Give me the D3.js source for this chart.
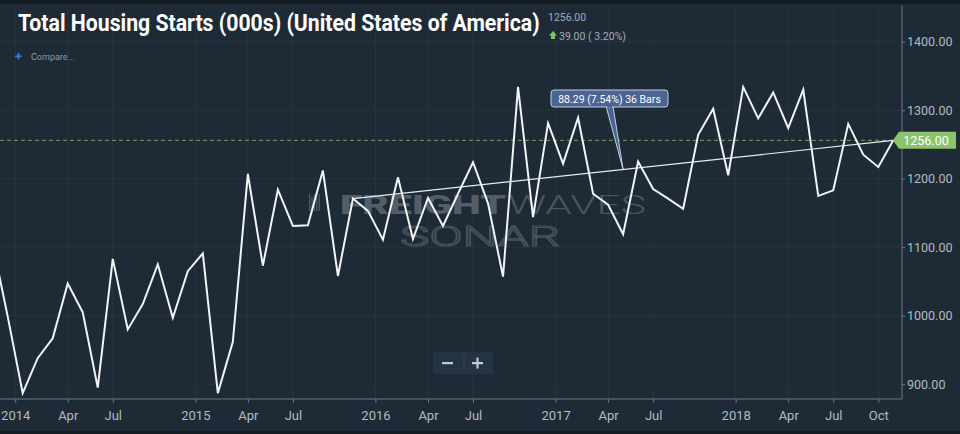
<!DOCTYPE html>
<html><head><meta charset="utf-8">
<script src="https://cdn.jsdelivr.net/npm/d3@7"></script>
<style>html,body{margin:0;padding:0;background:#1e2a36;}svg{display:block;}</style>
</head><body>
<svg id="c" width="960" height="434"></svg>
<script>
// ---- data (monthly, Nov 2013 .. Nov 2018) ----
const months = d3.range(-2, 59); // bar index, 0 = Jan 2014
const values = [1105, 999,
  887, 938, 967, 1047, 1005, 895, 1083, 980, 1017, 1075, 997, 1065,
  1091, 887, 962, 1207, 1073, 1184, 1131, 1132, 1212, 1058, 1171, 1153,
  1111, 1202, 1112, 1172, 1131, 1178, 1224, 1164, 1057, 1334, 1144, 1281,
  1222, 1289, 1178, 1162, 1119, 1225, 1185, 1171, 1156, 1264, 1302, 1205,
  1334, 1288, 1326, 1274, 1330, 1175, 1183, 1280, 1235, 1217, 1256];
const xTickIdx = [-0.5, 3, 6, 11.5, 15, 18, 23.5, 27, 30, 35.5, 39, 42, 47.5, 51, 54, 57];
const xTickLabels = ["2014","Apr","Jul","2015","Apr","Jul","2016","Apr","Jul","2017","Apr","Jul","2018","Apr","Jul","Oct"];
const yTicks = [900, 1000, 1100, 1200, 1300, 1400];
const trendIdx = [22, 58];
const lastValue = 1256;
const title = "Total Housing Starts (000s) (United States of America)";
const priceText = "1256.00";
const changeText = "39.00 ( 3.20%)";
const calloutText = "88.29 (7.54%) 36 Bars";

const svg = d3.select("#c");
const W = 960, H = 434;
const plot = {l: 0, r: 902, t: 5, b: 399};

const x = d3.scaleLinear().domain([0, 58]).range([22.7, 893.3]);
const y = d3.scaleLinear().domain([900, 1400]).range([384.2, 41.7]);
const valAt = i => values[months.indexOf(i)];

svg.append("rect").attr("width", W).attr("height", H).attr("fill", "#1e2a36");
svg.append("rect").attr("width", W).attr("height", 4).attr("fill", "#141b23");
svg.append("rect").attr("y", 431).attr("width", W).attr("height", 3).attr("fill", "#141b23");

const defs = svg.append("defs");
defs.append("clipPath").attr("id", "pc").append("rect")
  .attr("x", plot.l).attr("y", plot.t).attr("width", plot.r - plot.l).attr("height", plot.b - plot.t);

// grid
const grid = svg.append("g");
grid.selectAll("line.v").data(xTickIdx).join("line")
  .attr("x1", d => x(d)).attr("x2", d => x(d)).attr("y1", plot.t).attr("y2", plot.b)
  .attr("stroke", "#273440").attr("stroke-width", 1);
grid.selectAll("line.h").data(yTicks).join("line")
  .attr("x1", plot.l).attr("x2", plot.r).attr("y1", d => y(d)).attr("y2", d => y(d))
  .attr("stroke", "#273440").attr("stroke-width", 1);

// helper: draw text fitted horizontally to a width using a transform
function fitText(g, str, tx, ty, width, attrs) {
  const t = g.append("text").text(str);
  Object.entries(attrs).forEach(([k, v]) => t.attr(k, v));
  const nat = t.node().getComputedTextLength() || width;
  t.attr("transform", `translate(${tx},${ty}) scale(${width / nat},1)`);
  return t;
}

// watermark
const wm = svg.append("g");
[0,1,2,3,4].forEach(i => {
  wm.append("rect").attr("x", 309 + i * 2.4).attr("y", 194 + (i % 2 ? 3 : 0)).attr("width", 1.3)
    .attr("height", 17 - (i % 2 ? 3 : 0)).attr("fill", "#4f5962");
});
fitText(wm, "FREIGHT", 340, 214, 166, {"font-family": "Roboto, sans-serif", "font-weight": 900, "font-size": 25, "fill": "#535d67"});
fitText(wm, "WAVES", 508, 214, 138, {"font-family": "Roboto, sans-serif", "font-weight": 300, "font-size": 25, "fill": "#4a545e"});
fitText(wm, "SONAR", 400, 246, 160, {"font-family": "Roboto, sans-serif", "font-weight": 300, "font-size": 28, "fill": "none", "stroke": "#4a545e", "stroke-width": 1.1});

// axes lines
svg.append("line").attr("x1", plot.r).attr("x2", plot.r).attr("y1", plot.t).attr("y2", plot.b)
  .attr("stroke", "#6c7680").attr("stroke-width", 1);
svg.append("line").attr("x1", 0).attr("x2", plot.r).attr("y1", plot.b).attr("y2", plot.b)
  .attr("stroke", "#6c7680").attr("stroke-width", 1);

// y axis on right
const yAxis = d3.axisRight(y).tickValues(yTicks).tickSize(3).tickPadding(2).tickFormat(d3.format(".2f"));
const ya = svg.append("g").attr("transform", `translate(${plot.r},0)`).call(yAxis);
ya.select(".domain").remove();
ya.selectAll("line").attr("stroke", "#6c7680");
ya.selectAll("text").attr("fill", "#b3bbc3").attr("font-family", "Roboto, sans-serif").attr("font-size", 12.5);

// x axis
const xAxis = d3.axisBottom(x).tickValues(xTickIdx).tickSize(4).tickPadding(8)
  .tickFormat((d, i) => xTickLabels[i]);
const xa = svg.append("g").attr("transform", `translate(0,${plot.b})`).call(xAxis);
xa.select(".domain").remove();
xa.selectAll("line").attr("stroke", "#6c7680");
xa.selectAll("text").attr("fill", "#b3bbc3").attr("font-family", "Roboto, sans-serif").attr("font-size", 13);

// plot layer
const pg = svg.append("g").attr("clip-path", "url(#pc)");

// dashed last-value line
pg.append("line").attr("x1", 0).attr("x2", x(58)).attr("y1", y(lastValue)).attr("y2", y(lastValue))
  .attr("stroke", "#76a35c").attr("stroke-width", 1).attr("stroke-dasharray", "4,3");

// trend line
pg.append("line")
  .attr("x1", x(trendIdx[0])).attr("y1", y(valAt(trendIdx[0])))
  .attr("x2", x(trendIdx[1])).attr("y2", y(valAt(trendIdx[1])))
  .attr("stroke", "#e8ecef").attr("stroke-width", 1.2);

// main line
const line = d3.line().x((d, i) => x(months[i])).y(d => y(d));
pg.append("path").datum(values).attr("d", line).attr("fill", "none")
  .attr("stroke", "#f2f4f6").attr("stroke-width", 2).attr("stroke-linejoin", "miter");

// callout
const cx0 = 551, cy0 = 90, cw = 117, ch = 17;
const tIdx = 40.0;
const v0 = valAt(trendIdx[0]), v1 = valAt(trendIdx[1]);
const tx = x(tIdx), ty = y(v0 + (v1 - v0) * (tIdx - trendIdx[0]) / (trendIdx[1] - trendIdx[0]));
svg.append("path")
  .attr("d", `M${606},${cy0 + ch - 1} L${tx},${ty} L${613},${cy0 + ch - 1}`)
  .attr("fill", "#4a6494").attr("stroke", "#c5cfdf").attr("stroke-width", 1);
svg.append("rect").attr("x", cx0).attr("y", cy0).attr("width", cw).attr("height", ch).attr("rx", 3)
  .attr("fill", "#4a6494").attr("stroke", "#c5cfdf").attr("stroke-width", 1);
svg.append("rect").attr("x", 607).attr("y", cy0 + ch - 1.5).attr("width", 5).attr("height", 2).attr("fill", "#4a6494");
svg.append("text").attr("x", cx0 + cw / 2).attr("y", cy0 + 12.5).attr("text-anchor", "middle")
  .attr("font-family", "Roboto, sans-serif").attr("font-size", 10.5).attr("fill", "#ffffff").text(calloutText);

// last value tag
const ly = y(lastValue);
svg.append("path")
  .attr("d", `M${893},${ly} L${899},${ly - 8.5} L${955},${ly - 8.5} Q${956},${ly - 8.5} ${956},${ly - 7.5} L${956},${ly + 7.5} Q${956},${ly + 8.5} ${955},${ly + 8.5} L${899},${ly + 8.5} Z`)
  .attr("fill", "#8bc46a");
svg.append("text").attr("x", 926).attr("y", ly + 4.5).attr("text-anchor", "middle")
  .attr("font-family", "Roboto, sans-serif").attr("font-size", 12.5).attr("fill", "#ffffff").text(d3.format(".2f")(lastValue));

// title & header
fitText(svg, title, 18, 31, 522, {"font-family": "Roboto, sans-serif", "font-weight": 700, "font-size": 23, "fill": "#ffffff"});
svg.append("text").attr("x", 548).attr("y", 21).attr("font-family", "Roboto, sans-serif")
  .attr("font-size", 10.5).attr("fill", "#a3adb7").text(priceText);
svg.append("path").attr("d", "M551,39 L551,35.5 L549,35.5 L553,31 L557,35.5 L555,35.5 L555,39 Z").attr("fill", "#7cc36a");
svg.append("text").attr("x", 559).attr("y", 40).attr("font-family", "Roboto, sans-serif")
  .attr("font-size", 10.5).attr("fill", "#a3adb7").text(changeText);
svg.append("text").attr("x", 15).attr("y", 61).attr("font-family", "Roboto, sans-serif")
  .attr("font-size", 13).attr("font-weight", 700).attr("fill", "#2f86e6").text("+");
svg.append("text").attr("x", 31).attr("y", 60).attr("font-family", "Roboto, sans-serif")
  .attr("font-size", 9).attr("fill", "#8e99a4").text("Compare...");

// zoom buttons
svg.append("rect").attr("x", 433).attr("y", 352).attr("width", 60).attr("height", 22).attr("rx", 3)
  .attr("fill", "#243442");
svg.append("line").attr("x1", 464).attr("x2", 464).attr("y1", 356).attr("y2", 370).attr("stroke", "#3a4a58");
svg.append("rect").attr("x", 442).attr("y", 362).attr("width", 11).attr("height", 2.2).attr("fill", "#c3cad1");
svg.append("rect").attr("x", 472).attr("y", 362).attr("width", 11).attr("height", 2.2).attr("fill", "#c3cad1");
svg.append("rect").attr("x", 476.4).attr("y", 357.6).attr("width", 2.2).attr("height", 11).attr("fill", "#c3cad1");
</script>
</body></html>
